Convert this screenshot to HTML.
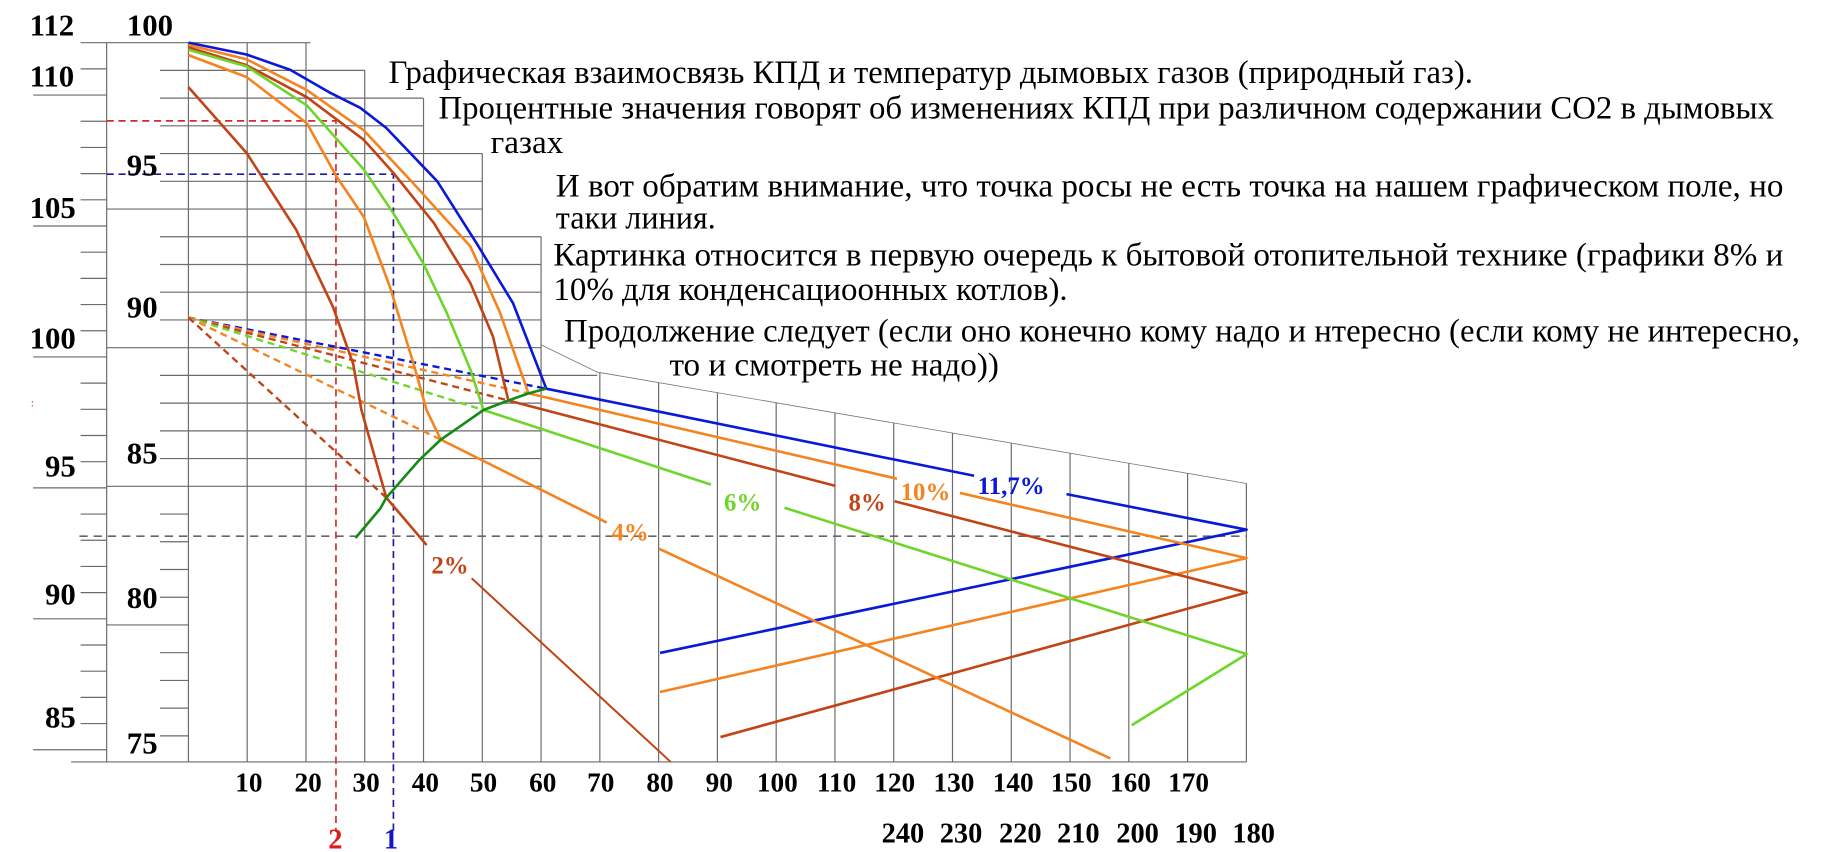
<!DOCTYPE html>
<html><head><meta charset="utf-8"><style>
html,body{margin:0;padding:0;background:#fff;}
svg{display:block;}
text{font-family:"Liberation Serif","Noto Serif CJK SC",serif;}
.b{font-weight:bold;}
</style></head><body>
<svg width="1848" height="852" viewBox="0 0 1559.5 719" xmlns="http://www.w3.org/2000/svg">
<g stroke="#6b6b6b" stroke-width="1" fill="none">
<line x1="90" y1="36" x2="90" y2="643"/>
<line x1="68" y1="58.1" x2="90" y2="58.1"/>
<line x1="28" y1="80.2" x2="90" y2="80.2"/>
<line x1="68" y1="102.3" x2="90" y2="102.3"/>
<line x1="68" y1="124.4" x2="90" y2="124.4"/>
<line x1="68" y1="146.5" x2="90" y2="146.5"/>
<line x1="68" y1="168.6" x2="90" y2="168.6"/>
<line x1="28" y1="190.7" x2="90" y2="190.7"/>
<line x1="68" y1="212.8" x2="90" y2="212.8"/>
<line x1="68" y1="234.9" x2="90" y2="234.9"/>
<line x1="68" y1="257" x2="90" y2="257"/>
<line x1="68" y1="279.1" x2="90" y2="279.1"/>
<line x1="28" y1="301.2" x2="90" y2="301.2"/>
<line x1="68" y1="323.3" x2="90" y2="323.3"/>
<line x1="68" y1="345.4" x2="90" y2="345.4"/>
<line x1="68" y1="367.5" x2="90" y2="367.5"/>
<line x1="68" y1="389.6" x2="90" y2="389.6"/>
<line x1="28" y1="411.7" x2="90" y2="411.7"/>
<line x1="68" y1="433.8" x2="90" y2="433.8"/>
<line x1="68" y1="455.9" x2="90" y2="455.9"/>
<line x1="68" y1="478" x2="90" y2="478"/>
<line x1="68" y1="500.1" x2="90" y2="500.1"/>
<line x1="28" y1="522.2" x2="90" y2="522.2"/>
<line x1="68" y1="544.3" x2="90" y2="544.3"/>
<line x1="68" y1="566.4" x2="90" y2="566.4"/>
<line x1="68" y1="588.5" x2="90" y2="588.5"/>
<line x1="68" y1="610.6" x2="90" y2="610.6"/>
<line x1="28" y1="632.7" x2="90" y2="632.7"/>
<line x1="68" y1="36" x2="262" y2="36"/>
<line x1="135" y1="59.4" x2="308" y2="59.4"/>
<line x1="135" y1="82.8" x2="357" y2="82.8"/>
<line x1="135" y1="106.2" x2="357" y2="106.2"/>
<line x1="135" y1="129.6" x2="407" y2="129.6"/>
<line x1="135" y1="153" x2="407" y2="153"/>
<line x1="90" y1="176.4" x2="407" y2="176.4"/>
<line x1="135" y1="199.8" x2="456.6" y2="199.8"/>
<line x1="135" y1="223.2" x2="456.6" y2="223.2"/>
<line x1="135" y1="246.6" x2="456.6" y2="246.6"/>
<line x1="135" y1="270" x2="456.6" y2="270"/>
<line x1="90" y1="293.4" x2="456.6" y2="293.4"/>
<line x1="135" y1="316.8" x2="504" y2="316.8"/>
<line x1="135" y1="340.2" x2="456.6" y2="340.2"/>
<line x1="135" y1="363.6" x2="456.6" y2="363.6"/>
<line x1="135" y1="387" x2="456.6" y2="387"/>
<line x1="90" y1="410.4" x2="456.6" y2="410.4"/>
<line x1="135" y1="433.8" x2="159" y2="433.8"/>
<line x1="135" y1="457.2" x2="159" y2="457.2"/>
<line x1="135" y1="480.6" x2="159" y2="480.6"/>
<line x1="135" y1="504" x2="159" y2="504"/>
<line x1="90" y1="527.4" x2="159" y2="527.4"/>
<line x1="135" y1="550.8" x2="159" y2="550.8"/>
<line x1="135" y1="574.2" x2="159" y2="574.2"/>
<line x1="135" y1="597.6" x2="159" y2="597.6"/>
<line x1="135" y1="621" x2="159" y2="621"/>
<line x1="60" y1="643" x2="1052" y2="643"/>
<line x1="159" y1="36" x2="159" y2="643"/>
<line x1="208.6" y1="36" x2="208.6" y2="643"/>
<line x1="258.2" y1="36" x2="258.2" y2="643"/>
<line x1="307.8" y1="59.4" x2="307.8" y2="643"/>
<line x1="357.4" y1="82.8" x2="357.4" y2="643"/>
<line x1="407" y1="129.6" x2="407" y2="643"/>
<line x1="456.6" y1="199.8" x2="456.6" y2="643"/>
<line x1="506.2" y1="314.4" x2="506.2" y2="643"/>
<line x1="555.8" y1="322.9" x2="555.8" y2="643"/>
<line x1="605.4" y1="331.4" x2="605.4" y2="643"/>
<line x1="655" y1="339.9" x2="655" y2="643"/>
<line x1="704.6" y1="348.4" x2="704.6" y2="643"/>
<line x1="754.2" y1="356.9" x2="754.2" y2="643"/>
<line x1="803.8" y1="365.4" x2="803.8" y2="643"/>
<line x1="853.4" y1="373.9" x2="853.4" y2="643"/>
<line x1="903" y1="382.4" x2="903" y2="643"/>
<line x1="952.6" y1="390.9" x2="952.6" y2="643"/>
<line x1="1002.2" y1="399.4" x2="1002.2" y2="643"/>
<line x1="1051.8" y1="407.9" x2="1051.8" y2="643"/>
</g>
<polyline points="456.6,291 504,314 1052,408" fill="none" stroke="#777" stroke-width="0.7"/>
<line x1="67" y1="452.5" x2="1052" y2="452.5" stroke="#666" stroke-width="1.4" stroke-dasharray="7,5"/>
<g fill="none" stroke-width="1.4" stroke-dasharray="6,4">
<polyline points="90,102 283.5,102 283.5,702" stroke="#d42a2a"/>
<polyline points="90,147 332,147 332,702" stroke="#1c1c9c"/>
</g>
<g fill="none" stroke-width="2" stroke-dasharray="6,4">
<line x1="159" y1="268" x2="461" y2="328" stroke="#0a18d8"/>
<line x1="159" y1="268" x2="446" y2="332" stroke="#f5831f"/>
<line x1="159" y1="268" x2="429" y2="338" stroke="#c24416"/>
<line x1="159" y1="268" x2="408" y2="346" stroke="#6ed62a"/>
<line x1="159" y1="268" x2="372" y2="371" stroke="#f5831f"/>
<line x1="159" y1="268" x2="326" y2="420" stroke="#c24416"/>
</g>
<g fill="none" stroke-width="2.2" stroke-linejoin="round">
<polyline stroke="#0a18d8" points="159,36 208,46 245,59 278,78 304,91 326,108 369,153 402,205 433,256 461,328 822,401.5"/>
<polyline stroke="#0a18d8" points="900,417 1052,447 557,551"/>
<polyline stroke="#f5831f" points="159,38 208,50 259,76 307,110 349,155 397,208 422,264 446,332 757,404"/>
<polyline stroke="#f5831f" points="810,416 1052,471 557,584"/>
<polyline stroke="#c24416" points="159,40 208,55 259,82 307,118 332,146 366,188 397,239 416,284 429,338 705,410"/>
<polyline stroke="#c24416" points="755,423 1052,500 608,622"/>
<polyline stroke="#6ed62a" points="159,42 208,56 259,89 307,143 332,180 357,222 377,264 397,312 408,346 600,409"/>
<polyline stroke="#6ed62a" points="662,428.5 1052,552 955,612"/>
<polyline stroke="#f5831f" points="159,46.5 208,65 259,104 284,149 307,183 329,242 349,307 360,346 372,371 512,441"/>
<polyline stroke="#f5831f" points="556,463 937,640"/>
<polyline stroke="#c24416" points="159,73.5 208,129 250,194 281,259 298,307 305,346 326,420 360,460"/>
<polyline stroke="#c24416" stroke-width="1.7" points="398,488 566,643"/>
<polyline stroke="#168a16" points="300,454 321,429 326,420 354,388 372,371 388,360 408,346 429,338 446,332 461,328"/>
</g>
<g class="b" font-size="21">
<text x="364" y="484" fill="#c24416">2%</text>
<text x="516" y="456" fill="#f5831f">4%</text>
<text x="611" y="431" fill="#6ed62a">6%</text>
<text x="716" y="431" fill="#c24416">8%</text>
<text x="760" y="422" fill="#f5831f">10%</text>
<text x="825" y="417" fill="#0a18d8">11,7%</text>
</g>
<g class="b" font-size="26" fill="#000">
<text x="25" y="30">112</text>
<text x="25" y="73">110</text>
<text x="25" y="184">105</text>
<text x="25" y="294">100</text>
<text x="38" y="402">95</text>
<text x="38" y="510">90</text>
<text x="38" y="614">85</text>
<text x="107" y="30">100</text>
<text x="107" y="148">95</text>
<text x="107" y="268">90</text>
<text x="107" y="391">85</text>
<text x="107" y="513">80</text>
<text x="107" y="636">75</text>
</g>
<text x="26" y="343" fill="#c24416" font-size="10">:</text>
<g class="b" font-size="23" text-anchor="middle" fill="#000">
<text x="210" y="668">10</text>
<text x="260" y="668">20</text>
<text x="309" y="668">30</text>
<text x="359" y="668">40</text>
<text x="408" y="668">50</text>
<text x="458" y="668">60</text>
<text x="507" y="668">70</text>
<text x="557" y="668">80</text>
<text x="607" y="668">90</text>
<text x="656" y="668">100</text>
<text x="706" y="668">110</text>
<text x="755" y="668">120</text>
<text x="805" y="668">130</text>
<text x="855" y="668">140</text>
<text x="904" y="668">150</text>
<text x="954" y="668">160</text>
<text x="1003" y="668">170</text>
</g>
<g class="b" font-size="24" text-anchor="middle" fill="#000">
<text x="762" y="711">240</text>
<text x="811" y="711">230</text>
<text x="861" y="711">220</text>
<text x="910" y="711">210</text>
<text x="960" y="711">200</text>
<text x="1009" y="711">190</text>
<text x="1058" y="711">180</text>
<text x="283" y="716" fill="#e01818">2</text>
<text x="330" y="716" fill="#1414c8">1</text>
</g>
<g font-size="28" fill="#000">
<text x="328" y="70" textLength="915" lengthAdjust="spacingAndGlyphs">Графическая взаимосвязь КПД и температур дымовых газов (природный газ).</text>
<text x="370" y="100" textLength="1127" lengthAdjust="spacingAndGlyphs">Процентные значения говорят об изменениях КПД при различном содержании CO2 в дымовых</text>
<text x="414" y="129">газах</text>
<text x="469" y="166" textLength="1036" lengthAdjust="spacingAndGlyphs">И  вот обратим внимание, что точка росы не есть точка на нашем графическом поле, но</text>
<text x="469" y="193" textLength="135" lengthAdjust="spacingAndGlyphs">таки линия.</text>
<text x="467" y="224" textLength="1038" lengthAdjust="spacingAndGlyphs">Картинка относится в первую очередь к бытовой отопительной технике (графики 8%  и</text>
<text x="467" y="253" textLength="434" lengthAdjust="spacingAndGlyphs">10% для конденсациоонных котлов).</text>
<text x="476" y="288" textLength="1043" lengthAdjust="spacingAndGlyphs">Продолжение следует (если оно конечно кому надо и нтересно (если кому не интересно,</text>
<text x="565" y="317" textLength="278" lengthAdjust="spacingAndGlyphs">то и смотреть не надо))</text>
</g>
</svg>
</body></html>
